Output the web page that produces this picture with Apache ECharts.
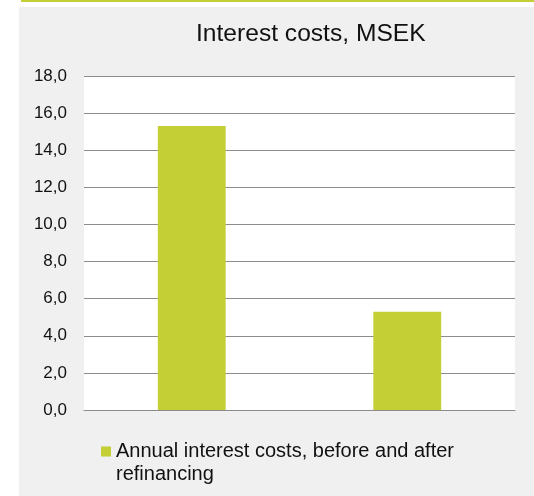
<!DOCTYPE html>
<html>
<head>
<meta charset="utf-8">
<script src="https://cdn.jsdelivr.net/npm/echarts@6/dist/echarts.min.js"></script>
<style>html,body{margin:0;padding:0;background:#fff;}#c{width:534px;height:496px;}</style>
</head>
<body>
<div id="c"></div>
<script>
const categories = ['Before refinancing', 'After refinancing'];
const seriesName = 'Annual interest costs, before and after refinancing';
const values = [15.3, 5.3];
const yTicks = { min: 0, max: 18, interval: 2 };

const chart = echarts.init(document.getElementById('c'), null, { renderer: 'canvas' });
const font = 'Arial, "Liberation Sans", sans-serif';
chart.setOption({
  backgroundColor: '#ffffff',
  animation: false,
  graphic: [
    { type: 'rect', z: -10, shape: { x: 19, y: 7, width: 515, height: 489 }, style: { fill: '#f0f0f0' } },
    { type: 'rect', z: -10, shape: { x: 21, y: 0, width: 513, height: 2 }, style: { fill: '#c3cf35' } }
  ],
  title: {
    text: 'Interest costs, MSEK',
    left: 196, top: 22,
    padding: 0,
    textStyle: { fontFamily: font, fontSize: 24.6, fontWeight: 'normal', color: '#111' }
  },
  legend: {
    left: 101, top: 417,
    padding: 0,
    itemWidth: 10, itemHeight: 10, itemGap: 5,
    icon: 'rect',
    formatter: () => '\nAnnual interest costs, before and after\nrefinancing',
    textStyle: { fontFamily: font, fontSize: 20, color: '#111', lineHeight: 23 }
  },
  grid: { left: 84, right: 19, top: 76, bottom: 86, show: true, backgroundColor: '#ffffff', borderWidth: 0 },
  xAxis: {
    type: 'category',
    data: categories,
    axisLine: { lineStyle: { color: '#8c8c8c', width: 1 } },
    axisTick: { show: false },
    axisLabel: { show: false }
  },
  yAxis: {
    type: 'value',
    min: yTicks.min, max: yTicks.max, interval: yTicks.interval,
    axisLine: { show: false },
    axisTick: { show: false },
    axisLabel: {
      margin: 17,
      fontFamily: font, fontSize: 17, color: '#111',
      formatter: v => v.toFixed(1).replace('.', ',')
    },
    splitLine: { lineStyle: { color: '#8c8c8c', width: 1 } }
  },
  series: [{
    name: seriesName,
    type: 'bar',
    data: values,
    barWidth: '31.5%',
    itemStyle: { color: '#c3cf35' }
  }]
});
</script>
</body>
</html>
